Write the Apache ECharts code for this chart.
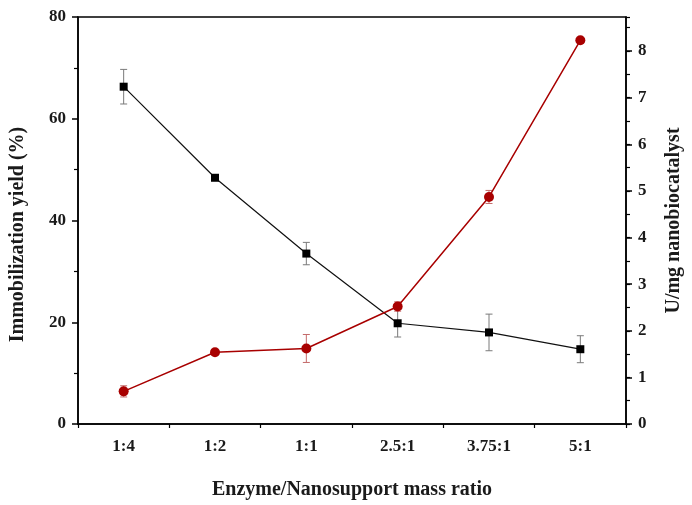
<!DOCTYPE html>
<html><head><meta charset="utf-8">
<script src="https://cdn.jsdelivr.net/npm/echarts@6/dist/echarts.min.js"></script>
<style>html,body{margin:0;padding:0;background:#fff}#c{width:692px;height:505px}</style>
</head><body><div id="c"></div>
<script>
const categories = ['1:4', '1:2', '1:1', '2.5:1', '3.75:1', '5:1'];
const yieldValues = [66.3, 48.4, 33.5, 19.8, 18.0, 14.7];
const yieldErrors = [3.4, 0.5, 2.2, 2.7, 3.6, 2.65];
const activityValues = [0.70, 1.54, 1.62, 2.52, 4.87, 8.23];
const activityErrors = [0.12, 0.05, 0.30, 0.10, 0.14, 0.05];
const leftAxisMin = 0, leftAxisMax = 80, leftAxisStep = 20;
const rightAxisMin = 0, rightAxisMax = 8.73, rightAxisStep = 1;

const FONT = 'Liberation Serif';
const TXT = '#1a1a1a';

function errRender(color) {
  return function (params, api) {
    const i = api.value(0), lo = api.value(1), hi = api.value(2);
    const pLo = api.coord([i, lo]);
    const pHi = api.coord([i, hi]);
    const w = 3.5;
    const style = { stroke: color, lineWidth: 1 };
    return {
      type: 'group', children: [
        { type: 'line', shape: { x1: pHi[0], y1: pHi[1], x2: pLo[0], y2: pLo[1] }, style },
        { type: 'line', shape: { x1: pHi[0] - w, y1: pHi[1], x2: pHi[0] + w, y2: pHi[1] }, style },
        { type: 'line', shape: { x1: pLo[0] - w, y1: pLo[1], x2: pLo[0] + w, y2: pLo[1] }, style }
      ]
    };
  };
}

const axisLineStyle = { color: '#000', width: 1.5 };
const labelStyle = { fontFamily: FONT, fontWeight: 'bold', fontSize: 17, color: TXT };
const nameStyle = { fontFamily: FONT, fontWeight: 'bold', fontSize: 20, color: TXT };

const chart = echarts.init(document.getElementById('c'), null, { renderer: 'canvas' });
chart.setOption({
  animation: false,
  backgroundColor: '#fff',
  grid: { left: 78, right: 63, top: 17, bottom: 78, show: true, borderColor: '#000', borderWidth: 1.5, backgroundColor: 'transparent' },
  xAxis: [
    {
      type: 'category', data: categories, boundaryGap: true, position: 'bottom',
      axisLine: { lineStyle: axisLineStyle },
      axisTick: { alignWithLabel: true, length: 6, lineStyle: { color: '#000', width: 1.5 } },
      axisLabel: Object.assign({ margin: 14 }, labelStyle),
      splitLine: { show: false },
      name: 'Enzyme/Nanosupport mass ratio', nameLocation: 'middle', nameGap: 56,
      nameTextStyle: nameStyle
    },
    {
      type: 'category', data: categories, boundaryGap: true, position: 'bottom',
      axisLine: { show: false },
      axisTick: { show: true, alignWithLabel: false, length: 4, lineStyle: { color: '#000', width: 1.2 } },
      axisLabel: { show: false },
      splitLine: { show: false }
    }
  ],
  yAxis: [
    {
      type: 'value', position: 'left', min: leftAxisMin, max: leftAxisMax, interval: leftAxisStep,
      axisLine: { show: true, lineStyle: axisLineStyle },
      axisTick: { show: true, length: 6, lineStyle: { color: '#000', width: 1.5 } },
      minorTick: { show: true, splitNumber: 2, length: 4, lineStyle: { color: '#000', width: 1.2 } },
      splitLine: { show: false },
      axisLabel: Object.assign({ margin: 12 }, labelStyle),
      name: 'Immobilization yield (%)', nameLocation: 'middle', nameRotate: 90, nameGap: 50,
      nameTextStyle: Object.assign({ padding: [0, 28, 0, 0] }, nameStyle)
    },
    {
      type: 'value', position: 'right', min: rightAxisMin, max: rightAxisMax, interval: rightAxisStep,
      axisLine: { show: true, lineStyle: axisLineStyle },
      axisTick: { show: true, length: 6, lineStyle: { color: '#000', width: 1.5 } },
      splitLine: { show: false },
      axisLabel: Object.assign({ margin: 12, showMaxLabel: false }, labelStyle),
      name: 'U/mg nanobiocatalyst', nameLocation: 'middle', nameRotate: 90, nameGap: 38,
      nameTextStyle: nameStyle
    },
    {
      type: 'value', position: 'right', min: rightAxisMin, max: rightAxisMax, interval: rightAxisStep / 2,
      axisLine: { show: false },
      axisTick: { show: true, length: 4, lineStyle: { color: '#000', width: 1.2 } },
      splitLine: { show: false },
      axisLabel: { show: false }
    }
  ],
  series: [
    {
      type: 'custom', xAxisIndex: 0, yAxisIndex: 0, z: 2,
      renderItem: errRender('#7a7a7a'),
      encode: { x: 0, y: [1, 2] },
      data: categories.map((c, i) => [i, yieldValues[i] - yieldErrors[i], yieldValues[i] + yieldErrors[i]])
    },
    {
      type: 'line', xAxisIndex: 0, yAxisIndex: 0, z: 3,
      data: yieldValues,
      symbol: 'rect', symbolSize: 8,
      itemStyle: { color: '#000' },
      lineStyle: { color: '#111', width: 1.2 }
    },
    {
      type: 'custom', xAxisIndex: 0, yAxisIndex: 1, z: 4,
      renderItem: errRender('#c46a6a'),
      encode: { x: 0, y: [1, 2] },
      data: categories.map((c, i) => [i, activityValues[i] - activityErrors[i], activityValues[i] + activityErrors[i]])
    },
    {
      type: 'line', xAxisIndex: 0, yAxisIndex: 1, z: 5,
      data: activityValues,
      symbol: 'circle', symbolSize: 10,
      itemStyle: { color: '#a80000' },
      lineStyle: { color: '#a80000', width: 1.5 }
    }
  ]
});
</script>
</body></html>
